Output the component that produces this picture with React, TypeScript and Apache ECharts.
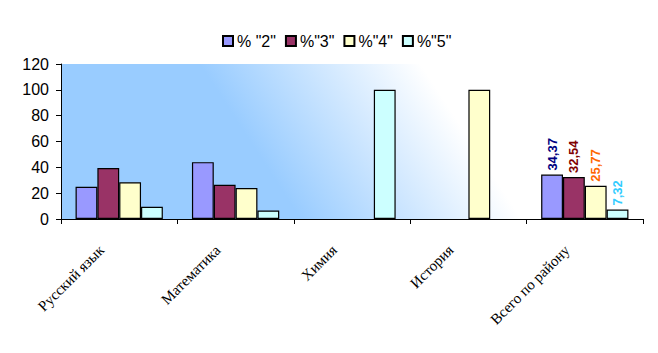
import React, { useEffect, useRef } from "react";
import * as echarts from "echarts";

const categories = ["Русский язык", "Математика", "Химия", "История", "Всего по району"];
const seriesNames = ['% "2"', '%"3"', '%"4"', '%"5"'];
const values2 = [25, 44, null, null, 34.37];
const values3 = [39.5, 26.5, null, null, 32.54];
const values4 = [28.5, 24, null, 100, 25.77];
const values5 = [9.5, 6.5, 100, null, 7.32];
const yTicks = { min: 0, max: 120, interval: 20 };

const barColors = ["#9999FF", "#993366", "#FFFFCC", "#CCFFFF"];
const labelColors = ["#000080", "#800000", "#FF6600", "#33CCFF"];

export default function App() {
  const ref = useRef<HTMLDivElement>(null);
  useEffect(() => {
    if (!ref.current) return;
    const chart = echarts.init(ref.current, null, { renderer: "svg" });
    const all = [values2, values3, values4, values5];
    const lastIdx = categories.length - 1;
    chart.setOption({
      animation: false,
      legend: {
        data: seriesNames,
        top: 28,
        left: 217,
        itemWidth: 10,
        itemHeight: 10,
        itemGap: 9,
        icon: "rect",
        textStyle: { fontFamily: "Liberation Sans, Arial", fontSize: 16, color: "#000", padding: [0, 0, 0, -1] },
      },
      grid: {
        left: 61,
        right: 15,
        top: 64,
        bottom: 134,
        show: true,
        borderWidth: 0,
        backgroundColor: new echarts.graphic.LinearGradient(
          250, 141, 405, 40,
          [
            { offset: 0, color: "#99CCFF" },
            { offset: 1, color: "#FFFFFF" },
          ],
          true
        ),
      },
      xAxis: {
        type: "category",
        data: categories,
        axisLine: { lineStyle: { color: "#000", width: 1 } },
        axisTick: { show: true, length: 5, lineStyle: { color: "#000" } },
        axisLabel: {
          rotate: 45,
          interval: 0,
          margin: 11,
          padding: [0, 25, 0, 0],
          fontFamily: "Liberation Serif, Times New Roman, serif",
          fontSize: 15,
          color: "#000",
        },
      },
      yAxis: {
        type: "value",
        min: yTicks.min,
        max: yTicks.max,
        interval: yTicks.interval,
        splitLine: { show: false },
        axisLine: { show: true, lineStyle: { color: "#000", width: 1 } },
        axisTick: { show: true, length: 5, lineStyle: { color: "#000" } },
        axisLabel: {
          fontFamily: "Liberation Sans, Arial",
          fontSize: 16,
          color: "#000",
          margin: 12,
        },
      },
      series: all.map((vals, si) => ({
        name: seriesNames[si],
        type: "bar",
        barGap: "0%",
        barCategoryGap: "25%",
        itemStyle: { color: barColors[si], borderColor: "#000", borderWidth: 1.2 },
        data: vals.map((v, i) =>
          i === lastIdx
            ? {
                value: v,
                label: {
                  show: true,
                  position: "top",
                  rotate: 90,
                  align: "left",
                  verticalAlign: "middle",
                  distance: 4,
                  formatter: (p: any) => String(p.value).replace(".", ","),
                  fontFamily: "Liberation Sans, Arial",
                  fontWeight: "bold",
                  fontSize: 13,
                  color: labelColors[si],
                },
              }
            : v
        ),
      })),
    });
    return () => chart.dispose();
  }, []);
  return (
    <div
      ref={ref}
      style={{ position: "absolute", left: 0, top: 0, width: 658, height: 353 }}
    />
  );
}
